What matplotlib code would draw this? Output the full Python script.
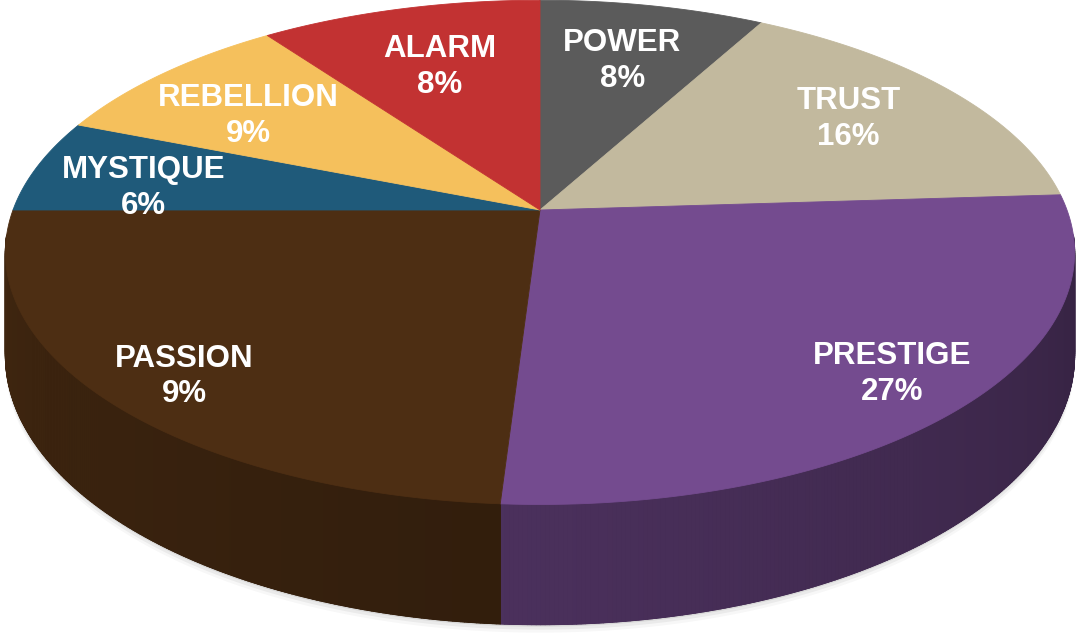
import numpy as np
import matplotlib
matplotlib.use("Agg")
import matplotlib.pyplot as plt
from matplotlib.collections import PolyCollection
from matplotlib.patches import Polygon
from matplotlib.colors import to_rgb

# slice data (clockwise from 12 o'clock)
names = ["POWER", "TRUST", "PRESTIGE", "PASSION", "MYSTIQUE", "REBELLION", "ALARM"]
shares = [8, 16, 27, 24, 6, 9, 10]           # share as drawn
pct_labels = ["8%", "16%", "27%", "9%", "6%", "9%", "8%"]  # text printed on the chart
colors = ["#5b5b5b", "#c2b99e", "#744b8f", "#4d2e13", "#1f5a7a", "#f5c05c", "#c23232"]

# label placement, per slice: distance (fraction of radius) and angle nudge (deg)
label_r = [0.70, 0.74, 0.85, 0.86, 0.77, 0.72, 0.68]
label_da = [0, 0, 0, 2, 4, 3, 0]

# projection of the pie disc (pixel space)
cx, cy = 540, 210
A, B, k = 527, 245, 0.168
D = 100


def proj(X, Y, z=0.0):
    w = 1 + k * Y
    return cx + A * X / w, cy - B * Y / w + D * z / w


def side_shade(t):
    # light from the left: left wall lighter, right wall darker
    a = np.degrees(t)
    a = np.where(a > 90, a - 360, a)
    return np.clip(0.44 + 0.40 * (-a) / 180.0, 0.42, 0.88)


fig = plt.figure(figsize=(10.8, 6.35), dpi=100)
ax = fig.add_axes([0, 0, 1, 1])
ax.set_xlim(0, 1080)
ax.set_ylim(635, 0)
ax.axis("off")

total = float(sum(shares))
bounds = 90 - 360 * np.concatenate([[0], np.cumsum(shares)]) / total

# soft shadow under the pie
tt = np.radians(np.linspace(-200, 20, 300))
for off, a in [(8, 0.03), (5, 0.05), (2, 0.08)]:
    bx, by = proj(np.cos(tt), np.sin(tt), 1.0)
    ax.fill(np.r_[bx, bx[::-1]], np.r_[by + off, by[::-1] - 40], color="k", alpha=a, lw=0)

# side walls
for i in range(len(shares)):
    t = np.radians(np.linspace(bounds[i], bounds[i + 1], 240))
    t = t[np.sin(t) < -0.1]
    if len(t) < 2:
        continue
    base = np.array(to_rgb(colors[i]))
    tx, ty = proj(np.cos(t), np.sin(t))
    bx, by = proj(np.cos(t), np.sin(t), 1.0)
    mean_col = np.clip(base * side_shade(t).mean(), 0, 1)
    ax.add_patch(Polygon(np.c_[np.r_[tx, bx[::-1]], np.r_[ty, by[::-1]]], closed=True,
                         facecolor=mean_col, edgecolor=mean_col, lw=0.6))
    strips, scol = [], []
    for j in range(len(t) - 1):
        strips.append([(tx[j], ty[j]), (tx[j + 1], ty[j + 1]), (bx[j + 1], by[j + 1]), (bx[j], by[j])])
        scol.append(np.clip(base * side_shade((t[j] + t[j + 1]) / 2), 0, 1))
    ax.add_collection(PolyCollection(strips, facecolors=scol, edgecolors=scol, linewidths=0.8))

# top faces
for i in range(len(shares)):
    t = np.radians(np.linspace(bounds[i], bounds[i + 1], 200))
    px, py = proj(np.cos(t), np.sin(t))
    pts = np.c_[np.r_[cx, px], np.r_[cy, py]]
    ax.add_patch(Polygon(pts, closed=True, facecolor=colors[i], edgecolor=colors[i], lw=0.6))

# labels
for i in range(len(shares)):
    mid = np.radians((bounds[i] + bounds[i + 1]) / 2 + label_da[i])
    lx, ly = proj(label_r[i] * np.cos(mid), label_r[i] * np.sin(mid))
    ax.text(lx, ly, names[i] + "\n" + pct_labels[i], color="white", ha="center", va="center",
            fontsize=22.5, fontweight="bold", family=["Liberation Sans", "DejaVu Sans"],
            linespacing=1.25)

fig.savefig("out.png", dpi=100)
